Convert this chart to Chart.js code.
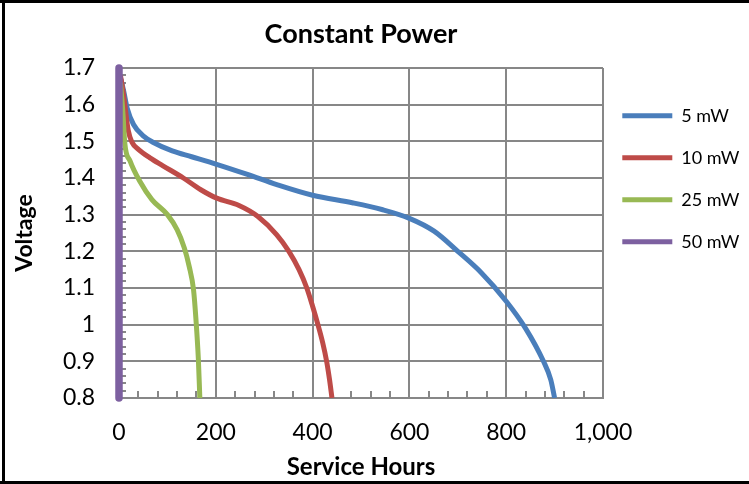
<!DOCTYPE html>
<html>
<head>
<meta charset="utf-8">
<script src="https://cdn.jsdelivr.net/npm/chart.js@4.4.1/dist/chart.umd.min.js"></script>
<style>
  html, body { margin: 0; padding: 0; background: #fff; }
  #wrap { position: relative; width: 749px; height: 484px; overflow: hidden; }
  canvas { position: absolute; left: 0; top: 0; }
  .bar { position: absolute; background: #000; }
</style>
</head>
<body>
<div id="wrap">
  <canvas id="c" width="749" height="484"></canvas>
  <div class="bar" style="left:0;top:0;width:749px;height:3px"></div>
  <div class="bar" style="left:2px;top:0;width:3px;height:484px"></div>
  <div class="bar" style="left:0;top:481px;width:749px;height:3px"></div>
</div>
<script>
// ---- data ----
const SERIES_LABELS = ['5 mW', '10 mW', '25 mW', '50 mW'];
const SERIES_COLORS = ['#4A7EBB', '#BE4B48', '#98B954', '#7D60A0'];

const HOURS_5MW = [4, 10, 17, 30, 50, 71, 110, 150, 200, 267, 326, 400, 484, 543, 600, 651, 700, 749, 800, 840, 877, 892, 900];
const VOLTS_5MW = [1.67, 1.635, 1.59, 1.546, 1.515, 1.497, 1.474, 1.458, 1.438, 1.409, 1.382, 1.353, 1.332, 1.314, 1.29, 1.255, 1.2, 1.141, 1.064, 0.99, 0.9, 0.85, 0.8];

const HOURS_10MW = [3, 8, 12, 19, 27, 40, 64, 90, 133, 169, 202, 248, 287, 326, 351, 372, 388, 400, 411, 421, 429, 435, 440];
const VOLTS_10MW = [1.68, 1.64, 1.6, 1.53, 1.497, 1.478, 1.455, 1.434, 1.4, 1.368, 1.345, 1.325, 1.295, 1.245, 1.2, 1.15, 1.1, 1.05, 1.0, 0.95, 0.9, 0.85, 0.8];

const HOURS_25MW = [3, 8, 12, 23, 43, 68, 100, 120, 135, 145, 154, 159, 164, 167];
const VOLTS_25MW = [1.66, 1.58, 1.495, 1.446, 1.391, 1.341, 1.3, 1.259, 1.209, 1.159, 1.095, 1.014, 0.905, 0.8];

const HOURS_50MW = [0, 0];
const VOLTS_50MW = [1.7, 0.8];

const X_TICKS = [0, 200, 400, 600, 800, 1000];
const X_TICK_LABELS = ['0', '200', '400', '600', '800', '1,000'];
const Y_TICKS = [0.8, 0.9, 1.0, 1.1, 1.2, 1.3, 1.4, 1.5, 1.6, 1.7];
const Y_TICK_LABELS = ['0.8', '0.9', '1', '1.1', '1.2', '1.3', '1.4', '1.5', '1.6', '1.7'];
const X_MINOR_STEP = 40;
const Y_MINOR_STEP = 0.02;

const FONT = 'Lato, "Open Sans", sans-serif';
const GRID = '#878787';

function pts(xs, ys) { return xs.map((x, i) => ({ x: x, y: ys[i] })); }

const datasets = [
  { label: SERIES_LABELS[0], data: pts(HOURS_5MW, VOLTS_5MW), borderColor: SERIES_COLORS[0], backgroundColor: SERIES_COLORS[0], borderWidth: 5, cubicInterpolationMode: 'monotone', order: 3 },
  { label: SERIES_LABELS[1], data: pts(HOURS_10MW, VOLTS_10MW), borderColor: SERIES_COLORS[1], backgroundColor: SERIES_COLORS[1], borderWidth: 5, cubicInterpolationMode: 'monotone', order: 2 },
  { label: SERIES_LABELS[2], data: pts(HOURS_25MW, VOLTS_25MW), borderColor: SERIES_COLORS[2], backgroundColor: SERIES_COLORS[2], borderWidth: 5, cubicInterpolationMode: 'monotone', order: 1 },
  { label: SERIES_LABELS[3], data: pts(HOURS_50MW, VOLTS_50MW), borderColor: SERIES_COLORS[3], backgroundColor: SERIES_COLORS[3], borderWidth: 7.5, tension: 0, clip: false, borderCapStyle: 'butt', order: 0 }
];

// minor tick marks (Excel style), drawn from the scales
const minorTicks = {
  id: 'minorTicks',
  beforeDatasetsDraw(chart) {
    const { ctx, chartArea: a, scales: { x, y } } = chart;
    ctx.save();
    ctx.strokeStyle = GRID;
    ctx.lineWidth = 2;
    ctx.beginPath();
    for (let v = X_MINOR_STEP; v < x.max; v += X_MINOR_STEP) {
      if (Math.abs(v % 200) < 1e-6) continue;
      const px = Math.round(x.getPixelForValue(v));
      ctx.moveTo(px, a.bottom);
      ctx.lineTo(px, a.bottom - 7);
    }
    for (let k = 1; k < 45; k++) {
      const v = y.min + k * Y_MINOR_STEP;
      if (k % 5 === 0) continue;
      const py = Math.round(y.getPixelForValue(v));
      ctx.moveTo(a.left, py);
      ctx.lineTo(a.left + 7, py);
    }
    ctx.stroke();
    ctx.restore();
  }
};

// place legend block at the right of the plot
const legendPlace = {
  id: 'legendPlace',
  afterLayout(chart) {
    const lg = chart.legend;
    if (!lg) return;
    const a = chart.chartArea;
    const w = lg.width, h = lg.height;
    lg.left = a.right - 4.7;
    lg.top = a.top + 14.8;
    lg.right = lg.left + w;
    lg.bottom = lg.top + h + 100;
    lg.height = lg.bottom - lg.top;
  }
};

new Chart(document.getElementById('c'), {
  type: 'line',
  data: { datasets },
  plugins: [minorTicks, legendPlace],
  options: {
    responsive: false,
    animation: false,
    devicePixelRatio: 1,
    layout: { padding: { left: 0, right: 146, top: 0, bottom: 0 } },
    elements: { point: { radius: 0, hoverRadius: 0 }, line: { borderCapStyle: 'butt', borderJoinStyle: 'round' } },
    plugins: {
      title: {
        display: true,
        text: 'Constant Power',
        fullSize: false,
        color: '#000',
        font: { family: FONT, size: 27, weight: 'bold' },
        padding: { top: 17.8, bottom: 17.8 }
      },
      legend: {
        position: 'chartArea',
        align: 'start',
        labels: {
          color: '#000',
          font: { family: FONT, size: 18 },
          boxWidth: 50,
          boxHeight: 5,
          padding: 24,
          textAlign: 'left',
          sort: (a, b) => a.datasetIndex - b.datasetIndex,
          generateLabels(chart) {
            const items = Chart.defaults.plugins.legend.labels.generateLabels(chart);
            items.forEach(it => { it.lineWidth = 0; it.fillStyle = it.strokeStyle; });
            return items;
          }
        }
      },
      tooltip: { enabled: false }
    },
    scales: {
      x: {
        type: 'linear',
        min: 0,
        max: 1000,
        afterBuildTicks(scale) { scale.ticks = X_TICKS.map(v => ({ value: v })); },
        afterFit(scale) { scale.height = 86; },
        ticks: {
          color: '#000',
          font: { family: FONT, size: 23 },
          padding: 20.7,
          maxRotation: 0,
          autoSkip: false,
          callback: (v, i) => X_TICK_LABELS[i]
        },
        grid: { color: GRID, lineWidth: 2, drawTicks: false },
        border: { color: GRID, width: 2 },
        title: {
          display: true,
          text: 'Service Hours',
          color: '#000',
          font: { family: FONT, size: 24, weight: 'bold' },
          padding: { top: 0, bottom: 2.1 }
        }
      },
      y: {
        type: 'linear',
        min: 0.8,
        max: 1.7,
        afterBuildTicks(scale) { scale.ticks = Y_TICKS.map(v => ({ value: v })); },
        afterFit(scale) { scale.width = 119; },
        ticks: {
          color: '#000',
          font: { family: FONT, size: 23 },
          padding: 24,
          autoSkip: false,
          callback: (v, i) => Y_TICK_LABELS[i]
        },
        grid: { color: GRID, lineWidth: 2, drawTicks: false },
        border: { color: GRID, width: 2 },
        title: {
          display: true,
          text: 'Voltage',
          color: '#000',
          font: { family: FONT, size: 23, weight: 'bold' },
          padding: { top: 11, bottom: 0 }
        }
      }
    }
  }
});
</script>
</body>
</html>
